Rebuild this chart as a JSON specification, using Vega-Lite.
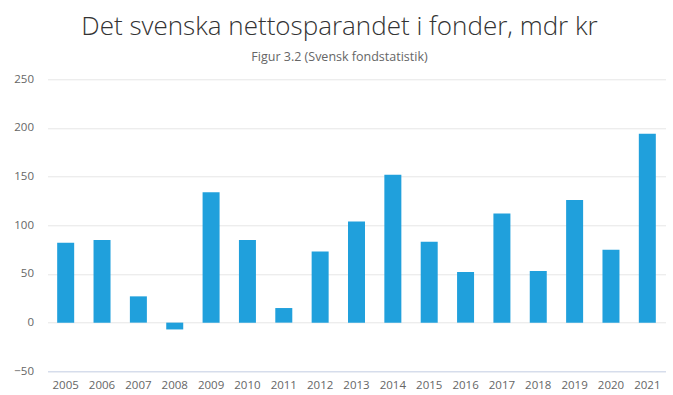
{
  "$schema": "https://vega.github.io/schema/vega-lite/v6.json",
  "autosize": "none",
  "width": 618,
  "height": 292,
  "padding": {"left": 47.5, "top": 79.3, "right": 7.5, "bottom": 23.7},
  "background": "white",
  "title": {
    "text": "Det svenska nettosparandet i fonder, mdr kr",
    "subtitle": "Figur 3.2 (Svensk fondstatistik)",
    "anchor": "middle",
    "dx": -17,
    "offset": 10,
    "font": "Open Sans",
    "fontSize": 26,
    "fontWeight": 300,
    "color": "#333333",
    "subtitleFont": "Open Sans",
    "subtitleFontSize": 12.5,
    "subtitleColor": "#666666",
    "subtitlePadding": 11
  },
  "data": {
    "values": [
      {"year": "2005", "value": 82},
      {"year": "2006", "value": 85},
      {"year": "2007", "value": 27},
      {"year": "2008", "value": -7},
      {"year": "2009", "value": 134},
      {"year": "2010", "value": 85},
      {"year": "2011", "value": 15},
      {"year": "2012", "value": 73},
      {"year": "2013", "value": 104},
      {"year": "2014", "value": 152},
      {"year": "2015", "value": 83},
      {"year": "2016", "value": 52},
      {"year": "2017", "value": 112},
      {"year": "2018", "value": 53},
      {"year": "2019", "value": 126},
      {"year": "2020", "value": 75},
      {"year": "2021", "value": 194}
    ]
  },
  "mark": {"type": "bar", "size": 17, "color": "#20a0dc"},
  "encoding": {
    "x": {
      "field": "year",
      "type": "ordinal",
      "scale": {"paddingInner": 0, "paddingOuter": 0},
      "axis": {
        "title": null,
        "labelAngle": 0,
        "labelFont": "Open Sans",
        "labelFontSize": 11.5,
        "labelColor": "#666666",
        "labelPadding": 8,
        "ticks": false,
        "domainColor": "#ccd6eb",
        "domainWidth": 1,
        "grid": false
      }
    },
    "y": {
      "field": "value",
      "type": "quantitative",
      "scale": {"domain": [-50, 250], "nice": false},
      "axis": {
        "title": null,
        "values": [-50, 0, 50, 100, 150, 200, 250],
        "labelFont": "Open Sans",
        "labelFontSize": 11.5,
        "labelColor": "#666666",
        "labelPadding": 14,
        "ticks": false,
        "domain": false,
        "grid": true,
        "gridColor": "#e6e6e6",
        "gridWidth": 1
      }
    }
  },
  "config": {"view": {"stroke": null}}
}
